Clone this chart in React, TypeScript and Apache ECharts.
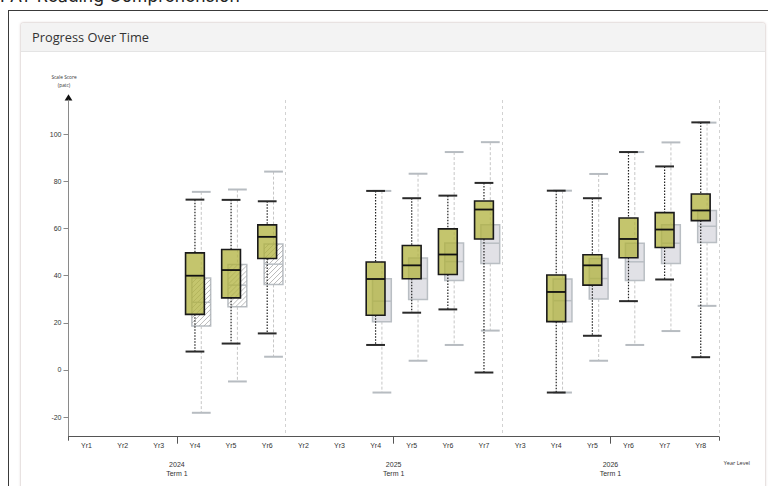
import React, { useEffect, useRef } from "react";
import * as echarts from "echarts";

// ---- data ----
const groups = ["2024\nTerm 1", "2025\nTerm 1", "2026\nTerm 1"];
const yearLevels2024 = ["Yr1", "Yr2", "Yr3", "Yr4", "Yr5", "Yr6"];
const yearLevels2025 = ["Yr2", "Yr3", "Yr4", "Yr5", "Yr6", "Yr7"];
const yearLevels2026 = ["Yr3", "Yr4", "Yr5", "Yr6", "Yr7", "Yr8"];
const yTickValues = [-20, 0, 20, 40, 60, 80, 100];

// [category index, min, q1, median, q3, max]
const schoolBoxes = [
  [3, 7.8, 23.6, 40.0, 49.7, 72.3],
  [4, 11.2, 30.6, 42.4, 51.1, 72.2],
  [5, 15.5, 47.3, 56.5, 61.6, 71.6],
  [8, 10.6, 23.2, 38.6, 45.8, 76.0],
  [9, 24.3, 38.7, 44.4, 52.8, 72.9],
  [10, 25.7, 40.5, 49.0, 59.9, 74.0],
  [11, -1.1, 55.6, 68.1, 71.7, 79.4],
  [13, -9.6, 20.5, 33.1, 40.3, 76.1],
  [14, 14.5, 36.0, 44.4, 48.9, 72.9],
  [15, 29.2, 47.6, 55.6, 64.5, 92.5],
  [16, 38.4, 52.0, 59.6, 66.8, 86.4],
  [17, 5.4, 63.4, 67.7, 74.7, 105.1],
];

const normBoxes = [
  [3, -18.2, 18.6, 28.7, 39.0, 75.6],
  [4, -4.9, 26.8, 36.0, 44.8, 76.6],
  [5, 5.6, 36.3, 44.9, 53.5, 84.2],
  [8, -9.6, 20.5, 29.2, 38.7, 76.0],
  [9, 3.9, 29.9, 38.8, 47.5, 83.3],
  [10, 10.6, 38.0, 46.0, 53.9, 92.5],
  [11, 16.7, 45.2, 53.8, 61.6, 96.7],
  [13, -9.6, 20.5, 29.4, 38.6, 76.1],
  [14, 3.9, 30.1, 38.8, 47.3, 83.2],
  [15, 10.6, 38.0, 45.9, 53.8, 92.5],
  [16, 16.5, 45.2, 53.8, 61.6, 96.6],
  [17, 27.2, 54.1, 61.0, 67.7, 105.0],
];
const normHatched = [true, true, true, false, false, false, false, false, false, false, false, false];

const categoryKeys = [
  ...yearLevels2024.map((y) => "2024|" + y),
  ...yearLevels2025.map((y) => "2025|" + y),
  ...yearLevels2026.map((y) => "2026|" + y),
];

function makeRender(kind: "school" | "norm") {
  return (params: any, api: any) => {
    const idx = api.value(0);
    const vMin = api.value(1);
    const vQ1 = api.value(2);
    const vMed = api.value(3);
    const vQ3 = api.value(4);
    const vMax = api.value(5);
    const base = api.coord([idx, vMed]);
    const band = api.size([1, 0])[0];
    const w = band * 0.52;
    const cx = base[0] + (kind === "norm" ? band * 0.175 : 0);
    const yMin = api.coord([idx, vMin])[1];
    const yQ1 = api.coord([idx, vQ1])[1];
    const yMed = base[1];
    const yQ3 = api.coord([idx, vQ3])[1];
    const yMax = api.coord([idx, vMax])[1];
    const x0 = cx - w / 2;
    const children: any[] = [];
    const school = kind === "school";
    const whiskerStyle = school
      ? { stroke: "#222", lineWidth: 1.2, lineDash: [1.5, 1.5] }
      : { stroke: "#c6c6c6", lineWidth: 1, lineDash: [3, 2] };
    const capStyle = school
      ? { stroke: "#2a2a2a", lineWidth: 2 }
      : { stroke: "#b7bcc1", lineWidth: 2 };
    children.push({ type: "line", shape: { x1: cx, y1: yMax, x2: cx, y2: yQ3 }, style: whiskerStyle });
    children.push({ type: "line", shape: { x1: cx, y1: yQ1, x2: cx, y2: yMin }, style: whiskerStyle });
    children.push({ type: "line", shape: { x1: x0, y1: yMax, x2: x0 + w, y2: yMax }, style: capStyle });
    children.push({ type: "line", shape: { x1: x0, y1: yMin, x2: x0 + w, y2: yMin }, style: capStyle });
    const h = yQ1 - yQ3;
    const hatched = !school && normHatched[params.dataIndex];
    children.push({
      type: "rect",
      shape: { x: x0, y: yQ3, width: w, height: h },
      style: school
        ? { fill: "rgba(176,178,60,0.75)", stroke: "#1a1a1a", lineWidth: 1.6 }
        : { fill: hatched ? "#ffffff" : "#e1e1e6", stroke: "#b9bec3", lineWidth: 1.5 },
    });
    if (hatched) {
      const s = 5;
      const y0 = yQ3;
      for (let c = x0 + y0 + s; c < x0 + w + y0 + h; c += s) {
        const lo = Math.max(x0, c - y0 - h);
        const hi = Math.min(x0 + w, c - y0);
        if (hi > lo) {
          children.push({
            type: "line",
            shape: { x1: lo, y1: c - lo, x2: hi, y2: c - hi },
            style: { stroke: "#a8a8a8", lineWidth: 0.8 },
          });
        }
      }
    }
    children.push({
      type: "line",
      shape: { x1: x0, y1: yMed, x2: x0 + w, y2: yMed },
      style: school ? { stroke: "#111", lineWidth: 1.8 } : { stroke: "#b9bec3", lineWidth: 1.5 },
    });
    return { type: "group", children };
  };
}

export default function App() {
  const ref = useRef<HTMLDivElement>(null);
  useEffect(() => {
    if (!ref.current) return;
    const chart = echarts.init(ref.current, undefined, { renderer: "svg" });
    const font = "'Liberation Sans', Arial, sans-serif";
    chart.setOption({
      animation: false,
      textStyle: { fontFamily: font },
      grid: { left: 68.5, right: 49.2, top: 100, bottom: 49.3, containLabel: false },
      xAxis: [
        {
          type: "category",
          data: categoryKeys,
          boundaryGap: true,
          axisLine: { onZero: false, lineStyle: { color: "#555", width: 1 } },
          axisTick: { alignWithLabel: true, length: 4, lineStyle: { color: "#555" } },
          axisLabel: {
            interval: 0,
            fontSize: 7,
            color: "#333",
            margin: 5,
            formatter: (v: string) => v.split("|")[1],
          },
          splitLine: { show: false },
        },
        {
          type: "category",
          data: groups,
          position: "bottom",
          boundaryGap: true,
          axisLine: { show: false, onZero: false },
          axisTick: { show: true, alignWithLabel: true, length: 7, lineStyle: { color: "#555" } },
          axisLabel: { fontSize: 7, color: "#333", margin: 24, lineHeight: 8.5, interval: 0 },
          splitLine: { show: true, lineStyle: { type: [3, 3], color: "#d2d2d2", width: 1 } },
          name: "Year Level",
          nameLocation: "end",
          nameGap: 5,
          nameTextStyle: {
            fontFamily: "'Open Sans', sans-serif",
            fontSize: 5.5,
            color: "#333",
            verticalAlign: "top",
            align: "left",
            padding: [23, 0, 0, 0],
          },
        },
        {
          type: "category",
          data: [""],
          position: "bottom",
          boundaryGap: true,
          axisLine: { show: false, onZero: false },
          axisTick: { show: true, length: 4, lineStyle: { color: "#555" } },
          axisLabel: { show: false },
        },
      ],
      yAxis: {
        type: "value",
        min: -28.35,
        max: 114.6,
        axisLine: { show: true, onZero: false, lineStyle: { color: "#8a8a8a", width: 1 } },
        axisTick: { show: true, length: 5, lineStyle: { color: "#8a8a8a" }, customValues: yTickValues },
        axisLabel: { fontSize: 7, color: "#333", margin: 7, customValues: yTickValues },
        splitLine: { show: false },
        name: "Scale Score\n(patc)",
        nameLocation: "end",
        nameGap: 11,
        nameTextStyle: {
          fontFamily: "'Open Sans', sans-serif",
          fontSize: 4.8,
          lineHeight: 8,
          color: "#333",
          align: "center",
          padding: [0, 9, 0, 0],
        },
      },
      graphic: [
        {
          type: "polygon",
          shape: { points: [[68.5, 94.3], [64.6, 100.5], [72.4, 100.5]] },
          style: { fill: "#111" },
        },
      ],
      series: [
        {
          type: "custom",
          name: "Norm",
          xAxisIndex: 0,
          renderItem: makeRender("norm"),
          encode: { x: 0, y: [1, 2, 3, 4, 5] },
          data: normBoxes,
          z: 2,
        },
        {
          type: "custom",
          name: "School",
          xAxisIndex: 0,
          renderItem: makeRender("school"),
          encode: { x: 0, y: [1, 2, 3, 4, 5] },
          data: schoolBoxes,
          z: 3,
        },
      ],
    });
    return () => chart.dispose();
  }, []);

  return (
    <div style={{ position: "fixed", left: 0, top: 0, width: 768, height: 486, overflow: "hidden", background: "#fff" }}>
      <div
        style={{
          position: "absolute",
          left: 0,
          top: -13,
          fontSize: 17.5,
          lineHeight: "18px",
          fontFamily: "Inter, 'Noto Sans', sans-serif",
          color: "#222",
          whiteSpace: "nowrap",
        }}
      >
        PAT Reading Comprehension
      </div>
      <div
        style={{
          position: "absolute",
          left: 8,
          top: 10,
          width: 800,
          height: 600,
          borderTop: "1.5px solid #3a3a3a",
          borderLeft: "1.5px solid #3a3a3a",
        }}
      />
      <div
        style={{
          position: "absolute",
          left: 20,
          top: 22,
          width: 744,
          height: 600,
          border: "1px solid #e8e2e1",
          borderRadius: 4,
          background: "#fff",
          boxShadow: "0 0 2px rgba(210,190,190,0.5)",
          overflow: "hidden",
        }}
      >
        <div
          style={{
            height: 28,
            lineHeight: "28px",
            background: "#f3f3f3",
            borderBottom: "1px solid #e4e4e4",
            paddingLeft: 11,
            fontSize: 12.8,
            fontFamily: "'Open Sans', sans-serif",
            color: "#333",
          }}
        >
          Progress Over Time
        </div>
      </div>
      <div ref={ref} style={{ position: "absolute", left: 0, top: 0, width: 768, height: 486 }} />
    </div>
  );
}
